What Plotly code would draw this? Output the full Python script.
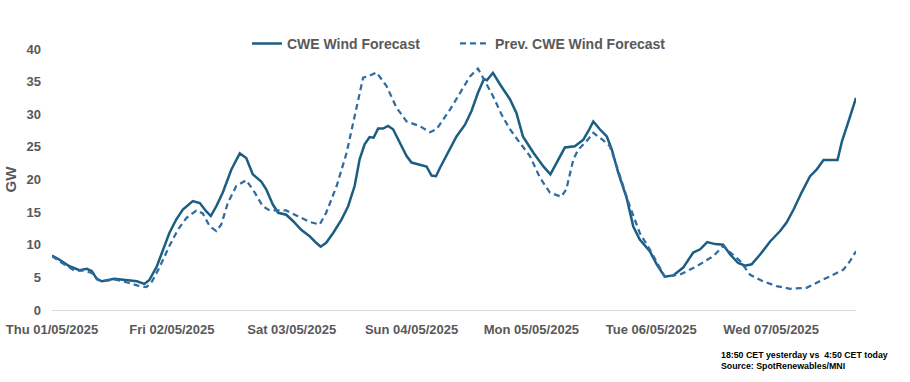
import pandas as pd
import plotly.graph_objects as go

# hours after Thu 01/05/2025 00:00 and GW values
cwe_hours = [0, 1.5, 3.5, 5.5, 7, 8, 9, 10, 12.5, 15, 17, 18.5, 19.5, 21, 22.2, 23.5, 24.9, 26.2,
             28.2, 29.6, 30.9, 31.8, 32.9, 34.2, 35.9, 37.6, 38.9, 40.2, 41.9, 42.9, 44.2, 45.3,
             46.9, 48.3, 49.9, 51.6, 52.9, 53.8, 54.9, 56.3, 58.0, 59.3, 60.6, 61.6, 62.6, 63.6,
             64.4, 65.3, 66.3, 67.3, 68.3, 69.6, 71.0, 72.0, 73.6, 75.0, 76.0, 76.9, 77.7, 78.7,
             81.0, 82.7, 84.0, 85.3, 86.5, 87.1, 88.3, 89.7, 91.7, 93.0, 94.3, 96.4, 98.4, 99.8,
             101.4, 102.7, 104.7, 106.4, 107.6, 108.4, 109.7, 111.1, 112.1, 113.4, 115.1, 116.4,
             117.7, 119.7, 121.1, 122.7, 124.4, 126.4, 128.4, 129.8, 131.2, 132.8, 134.4, 135.8,
             137.4, 138.8, 140.1, 141.8, 143.8, 145.8, 147.1, 148.5, 150.1, 151.8, 153.1, 154.5,
             157.3, 158.2, 159.5, 161.0]
cwe_values = [8.35, 7.7, 6.7, 6.1, 6.3, 5.95, 4.7, 4.4, 4.8, 4.6, 4.4, 4.0, 4.6, 6.7, 9.3, 11.8, 13.9, 15.4,
              16.7, 16.4, 15.1, 14.4, 15.9, 18.0, 21.5, 24.0, 23.3, 20.8, 19.7, 18.5, 16.2, 14.9,
              14.6, 13.6, 12.3, 11.3, 10.3, 9.7, 10.3, 11.8, 13.9, 15.9, 19.0, 23.1, 25.4, 26.5,
              26.4, 27.8, 27.8, 28.2, 27.7, 25.6, 23.6, 22.6, 22.3, 22.0, 20.6, 20.5, 21.8, 23.3,
              26.6, 28.4, 30.5, 33.3, 35.4, 35.2, 36.35, 34.6, 32.3, 30.2, 26.6, 24.1, 22.0, 20.8,
              23.1, 24.9, 25.1, 26.1, 27.7, 28.9, 27.7, 26.6, 24.6, 21.0, 17.1, 12.8,
              10.8, 9.0, 7.0, 5.1, 5.3, 6.5, 8.8, 9.3, 10.4, 10.1, 10.0, 8.5,
              7.2, 6.8, 7.0, 8.5, 10.5, 12.1, 13.4, 15.4, 18.0, 20.5, 21.5, 23.0,
              23.0, 25.9, 28.9, 32.5]

prev_hours = [0, 2.2, 4.5, 6.2, 7.9, 9.2, 10.2, 12.5, 14.9, 17.2, 18.9, 19.9, 21.5, 23.5, 25.2, 26.9,
              28.9, 30.2, 31.6, 32.9, 33.9, 35.2, 36.9, 38.9, 40.6, 42.2, 43.6, 46.9, 48.9, 51.6,
              53.6, 54.9, 57.0, 59.0, 60.6, 62.3, 63.6, 65.0, 67.0, 69.0, 71.0, 73.6, 75.7, 77.0,
              79.7, 81.7, 83.7, 85.3, 86.7, 88.3, 90.0, 91.7, 93.7, 95.7, 97.7, 99.7, 102.0, 103.0,
              104.4, 105.4, 107.1, 108.4, 110.4, 111.7, 113.1, 115.1, 115.7, 117.7, 119.7, 122.7,
              125.7, 129.1, 132.4, 134.4, 136.4, 137.8, 139.8, 142.4, 145.1, 147.8, 151.1, 153.8,
              156.5, 158.5, 159.8, 161.0]
prev_values = [8.25, 7.1, 6.05, 6.05, 5.7, 4.7, 4.4, 4.7, 4.25, 3.75, 3.5, 4.2, 6.5, 9.8, 12.3, 14.1,
               15.25, 14.8, 12.8, 12.1, 13.1, 16.4, 19.0, 19.9, 18.0, 15.9, 15.25, 15.25, 14.5, 13.5,
               13.1, 14.9, 19.0, 24.1, 29.7, 35.6, 35.9, 36.4, 34.3, 31.0, 28.9, 28.2, 27.25, 27.7,
               30.7, 33.3, 35.8, 37.0, 35.1, 32.8, 30.0, 27.7, 25.6, 23.6, 20.3, 18.0, 17.35, 18.5,
               23.1, 24.6, 25.9, 27.15, 26.0, 25.1, 22.0, 17.2, 15.9, 11.8, 9.3, 5.1,
               5.4, 6.7, 8.25, 9.8, 8.5, 7.5, 5.4, 4.4, 3.65, 3.25, 3.4, 4.4,
               5.45, 6.2, 7.5, 9.0]

start = pd.Timestamp("2025-05-01 00:00")
cwe_x = start + pd.to_timedelta(cwe_hours, unit="h")
prev_x = start + pd.to_timedelta(prev_hours, unit="h")

series_names = ["CWE Wind Forecast", "Prev. CWE Wind Forecast"]
y_ticks = [0, 5, 10, 15, 20, 25, 30, 35, 40]
note_lines = ["18:50 CET yesterday vs  4:50 CET today", "Source: SpotRenewables/MNI"]

GRAY = "#595959"
FONT = "Liberation Sans"

fig = go.Figure()
fig.add_trace(go.Scatter(x=cwe_x, y=cwe_values, mode="lines", name=series_names[0],
                         legendwidth=163,
                         line=dict(color="#1B5E82", width=2.5)))
fig.add_trace(go.Scatter(x=prev_x, y=prev_values, mode="lines", name=series_names[1],
                         legendwidth=185,
                         line=dict(color="#2F6CA3", width=2.25, dash="6px,4px")))

fig.update_layout(
    width=910, height=382,
    margin=dict(l=52, r=54, t=49, b=72, autoexpand=False),
    paper_bgcolor="white", plot_bgcolor="white",
    font=dict(family=FONT, color=GRAY, size=13),
    showlegend=True,
    legend=dict(orientation="h", x=0.2425, xanchor="left", y=1.02, yanchor="middle",
                font=dict(family=FONT, size=14, color=GRAY, weight="bold"),
                traceorder="normal", bgcolor="rgba(0,0,0,0)"),
    xaxis=dict(type="date", range=[start, start + pd.Timedelta(hours=161)],
               tick0=start, dtick=86400000, tickformat="%a %d/%m/%Y", automargin=False,
               showgrid=False, showline=True, linecolor="#D9D9D9", linewidth=1,
               ticks="", ticklabelstandoff=7, zeroline=False,
               tickfont=dict(family=FONT, size=13, color=GRAY, weight="bold")),
    yaxis=dict(range=[0, 40], tickvals=y_ticks, showgrid=False, showline=False, zeroline=False,
               ticks="", ticklabelstandoff=10, automargin=False,
               tickfont=dict(family=FONT, size=13, color=GRAY, weight="bold"),
               title=dict(text="GW", standoff=6,
                          font=dict(family=FONT, size=15, color=GRAY, weight="bold"))),
)

fig.add_annotation(xref="paper", yref="paper", x=(719 - 52) / 804, y=-(362 - 311) / 262,
                   xanchor="left", yanchor="middle", showarrow=False,
                   text=note_lines[0] + "<br>" + note_lines[1], align="left",
                   font=dict(family=FONT, size=8.8, color="black", weight="bold"))

fig.write_html("out.html", config={"displayModeBar": False},
               post_script="document.body.style.margin='0px';")
